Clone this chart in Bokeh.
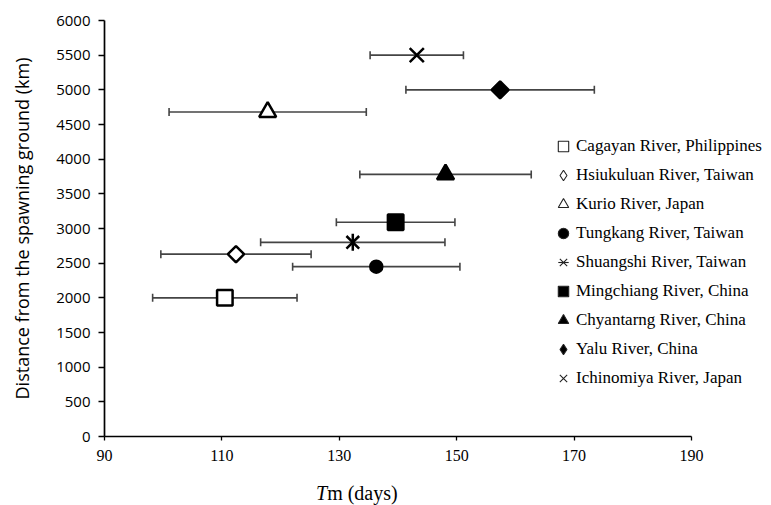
import math
from bokeh.plotting import figure
from bokeh.layouts import column
from bokeh.models import (ColumnDataSource, Range1d, FixedTicker, Whisker, TeeHead,
                          Legend, LegendItem, Div)
from bokeh.embed import file_html
from bokeh.resources import INLINE

# ---- data ----
rivers = ["Cagayan River, Philippines", "Hsiukuluan River, Taiwan", "Kurio River, Japan",
          "Tungkang River, Taiwan", "Shuangshi River, Taiwan", "Mingchiang River, China",
          "Chyantarng River, China", "Yalu River, China", "Ichinomiya River, Japan"]
tm_mean = [110.5, 112.4, 117.8, 136.3, 132.3, 139.6, 148.1, 157.4, 143.2]
tm_sd = [12.3, 12.8, 16.8, 14.25, 15.7, 10.1, 14.6, 16.05, 7.95]
distance = [2000, 2630, 4680, 2450, 2800, 3090, 3780, 5000, 5500]
x_ticks = [90, 110, 130, 150, 170, 190]
y_ticks = [0, 500, 1000, 1500, 2000, 2500, 3000, 3500, 4000, 4500, 5000, 5500, 6000]

# ---- marker styles: (marker, fill, size, angle, legend marker, legend size) ----
styles = [
    ("square", "white", 15.5, 0.0, "square", 15),
    ("square", "white", 11.5, math.pi / 4, "diamond", 15),
    ("triangle", "white", 17, 0.0, "triangle", 16),
    ("circle", "black", 12, 0.0, "circle", 11),
    ("x", None, 18, 0.0, "x", 16),
    ("square", "black", 15.5, 0.0, "square", 15),
    ("triangle", "black", 17, 0.0, "triangle", 16),
    ("square", "black", 12, math.pi / 4, "diamond", 15),
    ("x", None, 20, 0.0, "x", 18),
]

p = figure(width=763, height=482, x_range=Range1d(90, 202.27), y_range=Range1d(0, 6000),
           output_backend="svg", toolbar_location=None,
           min_border_left=104, min_border_right=0, min_border_top=20, min_border_bottom=46)
p.outline_line_color = None
p.xgrid.visible = False
p.ygrid.visible = False
p.background_fill_color = "white"
p.border_fill_color = "white"

# axes
p.xaxis.bounds = (90, 190)
p.xaxis.ticker = FixedTicker(ticks=x_ticks)
p.yaxis.ticker = FixedTicker(ticks=y_ticks)
for ax in (p.xaxis, p.yaxis):
    ax.axis_line_color = "black"
    ax.axis_line_width = 1.7
    ax.major_tick_line_color = "black"
    ax.major_tick_line_width = 1.3
    ax.minor_tick_line_color = None
    ax.major_tick_in = 0
    ax.major_label_text_color = "black"
p.xaxis.major_tick_out = 4
p.yaxis.major_tick_out = 6
p.xaxis.major_label_text_font = "Liberation Serif"
p.xaxis.major_label_text_font_size = "16px"
p.xaxis.major_label_standoff = 9
p.yaxis.major_label_text_font = "Open Sans"
p.yaxis.major_label_text_font_size = "15px"
p.yaxis.major_label_standoff = 8
p.yaxis.axis_label = "Distance from the spawning ground (km)"
p.yaxis.axis_label_text_font = "Open Sans"
p.yaxis.axis_label_text_font_size = "18px"
p.yaxis.axis_label_text_font_style = "normal"
p.yaxis.axis_label_text_color = "black"
p.yaxis.axis_label_standoff = 19

# error bars
lo = [m - s for m, s in zip(tm_mean, tm_sd)]
hi = [m + s for m, s in zip(tm_mean, tm_sd)]
src = ColumnDataSource(dict(river=rivers, tm=tm_mean, dist=distance, lo=lo, hi=hi))
wcol = "#444444"
p.add_layout(Whisker(source=src, base="dist", lower="lo", upper="hi", dimension="width",
                     line_color=wcol, line_width=1.6,
                     lower_head=TeeHead(size=8, line_color=wcol, line_width=1.6),
                     upper_head=TeeHead(size=8, line_color=wcol, line_width=1.6)))

items = []
for i, (name, st) in enumerate(zip(rivers, styles)):
    marker, fill, size, ang, lmarker, lsize = st
    s = ColumnDataSource(dict(x=[tm_mean[i]], y=[distance[i]]))
    filled = fill is not None
    # thin-lined twin drawn underneath: this is what the legend shows
    leg = [p.scatter("x", "y", source=s, marker=lmarker, size=lsize,
                     fill_color=fill if filled else "black", fill_alpha=1.0 if filled else 0.0,
                     line_color="#222222", line_width=1.1)]
    if i == 4:
        leg.append(p.scatter("x", "y", source=s, marker="dash", size=14, angle=math.pi / 2,
                             line_color="#222222", line_width=1.1))
    p.scatter("x", "y", source=s, marker=marker, size=size, angle=ang,
              fill_color=fill if filled else "black", fill_alpha=1.0 if filled else 0.0,
              line_color="black", line_width=2.5)
    if i == 4:
        p.scatter("x", "y", source=s, marker="dash", size=17, angle=math.pi / 2,
                  line_color="black", line_width=2.5)
    items.append(LegendItem(label=name, renderers=leg))

legend = Legend(items=items, location=(446, 44),
                label_text_font="Liberation Serif", label_text_font_size="17px",
                label_text_color="black",
                glyph_width=26, glyph_height=28, label_height=28, spacing=1,
                padding=0, margin=0, label_standoff=0,
                border_line_color=None, background_fill_alpha=0.0)
p.add_layout(legend)

# x-axis title "Tm (days)" with italic T, as a text row under the plot
xtitle = Div(text=('<div style="padding-left:316px;font-family:\'Liberation Serif\';'
                   'font-size:20px;line-height:22px;color:black;white-space:nowrap">'
                   '<i>T</i>m (days)</div>'),
             width=763, height=23, margin=0)

layout = column(p, xtitle, spacing=0)
open("out.html", "w").write(file_html(layout, INLINE))
